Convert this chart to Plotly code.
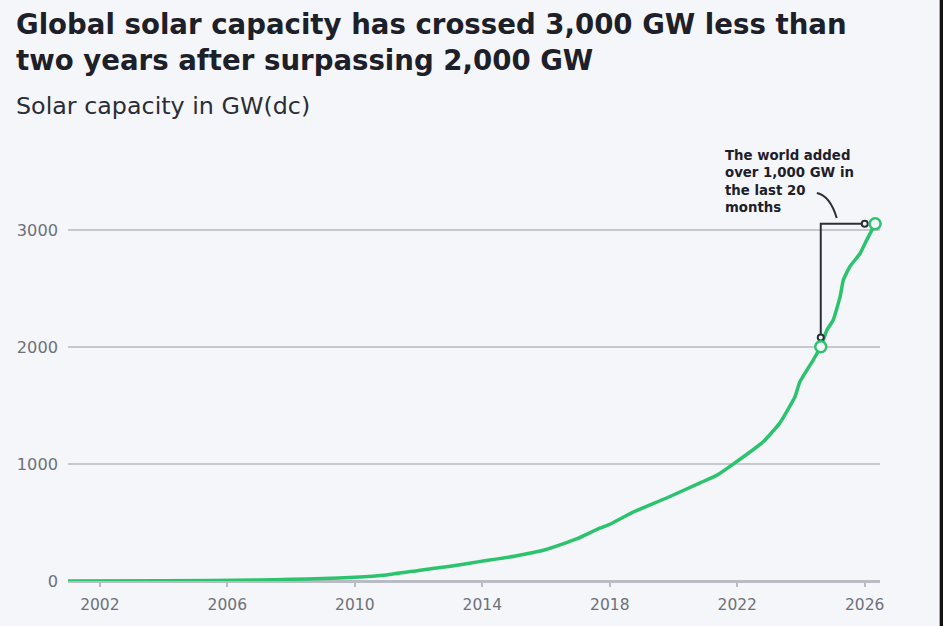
import plotly.graph_objects as go

# solar capacity, GW(dc)
dates = [
    "2001-01-01", "2004-01-01", "2007-01-01", "2008-01-01", "2009-01-01",
    "2010-01-01", "2011-01-01", "2012-01-01", "2013-01-01", "2014-01-01",
    "2015-01-01", "2016-01-01", "2017-01-01", "2017-09-01", "2018-01-01",
    "2018-10-01", "2019-10-01", "2020-11-01", "2021-05-15", "2021-11-15",
    "2022-10-25", "2023-05-01", "2023-10-25", "2023-12-20", "2024-05-20",
    "2024-08-15", "2024-10-25", "2025-01-05", "2025-03-25", "2025-05-01",
    "2025-07-15", "2025-11-10", "2026-01-25", "2026-04-30",
]
capacity = [
    1, 3, 8, 14, 22,
    32, 52, 90, 127, 170,
    212, 270, 365, 450, 485,
    591, 706, 840, 906, 1000,
    1191, 1349, 1577, 1705, 1891,
    2005, 2148, 2234, 2434, 2577,
    2691, 2805, 2919, 3057,
]

# highlighted points: crossing 2,000 GW and the latest value
mark_dates = ["2024-08-15", "2026-04-30"]
mark_values = [2005, 3057]

# bracket between the two highlighted points
bracket_x = ["2024-08-15", "2024-08-15", "2026-01-01"]
bracket_y = [2083, 3057, 3057]

GREEN = "#2cc36f"
BG = "#f5f6f9"
DARK = "#1d2029"
GREY = "#6d717a"
FONT = "DejaVu Sans"

fig = go.Figure()

fig.add_trace(go.Scatter(
    x=dates, y=capacity,
    mode="lines",
    line=dict(color=GREEN, width=3.5, shape="spline", smoothing=0.4),
    cliponaxis=False,
    hoverinfo="x+y",
))

fig.add_trace(go.Scatter(
    x=bracket_x, y=bracket_y,
    mode="lines",
    line=dict(color="#2b2f36", width=2),
    cliponaxis=False,
    hoverinfo="skip",
))
fig.add_trace(go.Scatter(
    x=[bracket_x[0], bracket_x[-1]], y=[bracket_y[0], bracket_y[-1]],
    mode="markers",
    marker=dict(size=6, color=BG, line=dict(color="#2b2f36", width=2)),
    cliponaxis=False,
    hoverinfo="skip",
))

fig.add_trace(go.Scatter(
    x=mark_dates, y=mark_values,
    mode="markers",
    marker=dict(size=11, color=BG, line=dict(color=GREEN, width=2.5)),
    cliponaxis=False,
    hoverinfo="x+y",
))

# curved pointer from the note to the bracket
fig.add_shape(
    type="path",
    path="M 2024-07-01,3321 Q 2024-12-01,3297 2025-02-14,3106",
    line=dict(color="#2b2f36", width=2),
    xref="x", yref="y",
)

fig.add_annotation(
    text="<b>The world added<br>over 1,000 GW in<br>the last 20<br>months</b>",
    xref="paper", yref="paper", x=0.8067, y=1.064,
    xanchor="left", yanchor="top", align="left",
    showarrow=False,
    font=dict(family=FONT, size=13.3, color=DARK),
)

title_lines = [
    "Global solar capacity has crossed 3,000 GW less than",
    "two years after surpassing 2,000 GW",
]
for i, line in enumerate(title_lines):
    fig.add_annotation(
        text="<b>" + line + "</b>",
        xref="paper", yref="paper", x=-0.067, y=1.405 - i * 0.087,
        xanchor="left", yanchor="top", align="left",
        showarrow=False,
        font=dict(family=FONT, size=27.6, color=DARK),
    )
fig.add_annotation(
    text="Solar capacity in GW(dc)",
    xref="paper", yref="paper", x=-0.067, y=1.2,
    xanchor="left", yanchor="top", align="left",
    showarrow=False,
    font=dict(family=FONT, size=23.8, color="#2a2d36"),
)

# thin dark edge on the right side of the picture
fig.add_shape(
    type="rect", xref="paper", yref="paper",
    x0=1.0735, x1=1.09, y0=-0.2, y1=1.6,
    fillcolor="#111111", line=dict(width=0), layer="above",
)

fig.update_layout(
    width=943, height=626,
    paper_bgcolor=BG, plot_bgcolor=BG,
    margin=dict(l=68, r=63, t=172, b=45, pad=0),
    showlegend=False,
    font=dict(family=FONT, color=GREY),
    xaxis=dict(
        type="date",
        range=["2001-01-01", "2026-06-25"],
        tick0="2002-01-01", dtick="M48", tickformat="%Y",
        showgrid=False, zeroline=False,
        showline=False,
        ticks="outside", ticklen=5, tickwidth=1.5, tickcolor="#b9bcc2",
        ticklabelstandoff=4,
        tickfont=dict(size=15.5, color=GREY),
    ),
    yaxis=dict(
        range=[0, 3500],
        tickvals=[0, 1000, 2000, 3000],
        showgrid=True, gridcolor="#c6c8cd", gridwidth=1.5,
        zeroline=True, zerolinecolor="#b9bcc2", zerolinewidth=2.5,
        showline=False, ticks="",
        ticklabelstandoff=9,
        tickfont=dict(size=16.2, color=GREY),
    ),
)

# drop the browser's default page margin so the figure fills the window
fig.write_html(
    "out.html",
    config={"displayModeBar": False},
    post_script="document.body.style.margin='0';"
                "document.body.style.background='" + BG + "';",
)
